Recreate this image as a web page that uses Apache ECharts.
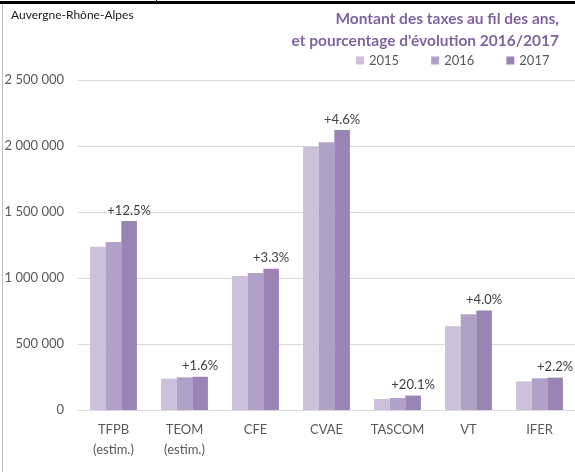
<!DOCTYPE html>
<html>
<head>
<meta charset="utf-8">
<script src="https://cdn.jsdelivr.net/npm/echarts@6/dist/echarts.min.js"></script>
<style>
  html, body { margin: 0; padding: 0; background: #fff; }
  #chart { width: 575px; height: 472px; }
</style>
</head>
<body>
<div id="chart"></div>
<script>
// Montant des taxes par année
const categories = ['TFPB\n(estim.)', 'TEOM\n(estim.)', 'CFE', 'CVAE', 'TASCOM', 'VT', 'IFER'];
const years = ['2015', '2016', '2017'];
const values2015 = [1237000, 237000, 1015000, 1995000, 84000, 634000, 217000];
const values2016 = [1272000, 247500, 1037000, 2028000, 91000, 725000, 240000];
const values2017 = [1431000, 251500, 1071000, 2121000, 109300, 754000, 245300];
const evolution = ['+12.5%', '+1.6%', '+3.3%', '+4.6%', '+20.1%', '+4.0%', '+2.2%'];
const yTicks = [0, 500000, 1000000, 1500000, 2000000, 2500000];

const colors = ['#ccc0da', '#b1a0c7', '#9a84b6'];
const font = 'Lato, "Liberation Sans", sans-serif';

const chart = echarts.init(document.getElementById('chart'));

const fmt = v => String(v).replace(/\B(?=(\d{3})+(?!\d))/g, ' ');

const mkSeries = (name, data, i) => ({
  name,
  type: 'bar',
  data,
  barGap: '0%',
  barCategoryGap: '34%',
  itemStyle: { color: colors[i] },
  label: i === 2 ? {
    show: true,
    position: 'top',
    distance: 4,
    color: '#404040',
    fontSize: 13,
    fontFamily: font,
    formatter: p => evolution[p.dataIndex]
  } : { show: false }
});

const option = {
  animation: false,
  title: {
    text: 'Auvergne-Rhône-Alpes',
    left: 11, top: 9, padding: 0,
    textStyle: { fontSize: 12, fontWeight: 'normal', color: '#1a1a1a', fontFamily: font }
  },
  legend: {
    data: years,
    left: 356, top: 54, padding: 0,
    itemWidth: 8, itemHeight: 8, itemGap: 32,
    icon: 'rect',
    textStyle: { fontSize: 13, color: '#595959', fontFamily: font }
  },
  grid: { left: 78, top: 80, width: 499, height: 330 },
  xAxis: {
    type: 'category',
    data: categories,
    axisLine: { lineStyle: { color: '#d9d9d9' } },
    axisTick: { show: false },
    axisLabel: { color: '#595959', fontSize: 13, fontFamily: font, lineHeight: 20, margin: 10, interval: 0 }
  },
  yAxis: {
    type: 'value',
    min: yTicks[0],
    max: yTicks[yTicks.length - 1],
    interval: yTicks[1] - yTicks[0],
    axisLine: { show: false },
    axisTick: { show: false },
    splitLine: { lineStyle: { color: '#d9d9d9' } },
    axisLabel: { color: '#595959', fontSize: 13, fontFamily: font, margin: 14, formatter: fmt }
  },
  series: [
    mkSeries(years[0], values2015, 0),
    mkSeries(years[1], values2016, 1),
    mkSeries(years[2], values2017, 2)
  ],
  graphic: [
    {
      type: 'text', x: 559, y: 8,
      style: {
        text: "Montant des taxes au fil des ans,\net pourcentage d'évolution 2016/2017",
        align: 'right', verticalAlign: 'top',
        font: 'bold 15.5px ' + font, lineHeight: 22, fill: '#8064a2'
      }
    },
    { type: 'rect', shape: { x: 0, y: 1, width: 575, height: 3 }, style: { fill: '#000' } },
    { type: 'rect', shape: { x: 156, y: 0, width: 1, height: 4 }, style: { fill: '#000' } },
    { type: 'rect', shape: { x: 2, y: 4, width: 1, height: 468 }, style: { fill: '#bfbfbf' } }
  ]
};

option && chart.setOption(option);
</script>
</body>
</html>
